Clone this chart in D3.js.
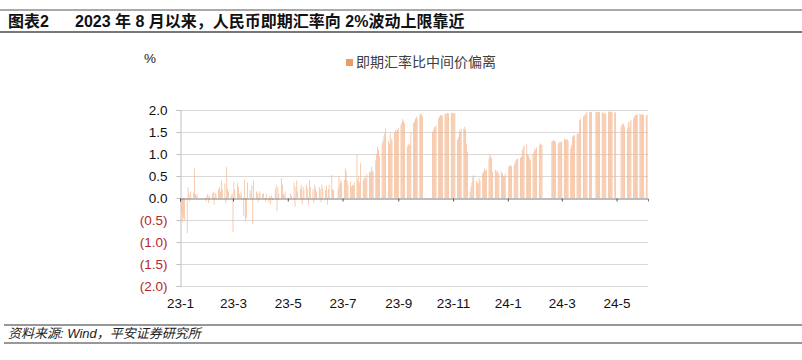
<!DOCTYPE html>
<html>
<head>
<meta charset="utf-8">
<script src="https://cdn.jsdelivr.net/npm/d3@7"></script>
<style>
  html, body { margin: 0; padding: 0; background: #fff; }
  svg { display: block; font-family: "Liberation Sans", Arial, "Noto Sans CJK SC", sans-serif; }
</style>
</head>
<body>
<svg id="chart" width="802" height="360"></svg>
<script>
// ---------------- DATA ----------------
const titleLabel = "图表2";
const titleText = "2023 年 8 月以来，人民币即期汇率向 2%波动上限靠近";
const sourceText = "资料来源: Wind，平安证券研究所";
const seriesName = "即期汇率比中间价偏离";
const unitLabel = "%";

// first Monday of the weekly rows below
const firstMonday = "2023-01-02";
// spot vs. central parity deviation (%), one row per week Mon..Fri, null = no trading
const weekValues = [
  [null, -0.35, -0.55, -0.45, -0.5],   // 2023-01-02
  [-0.8, 0.24, 0.1, -0.08, 0.15],
  [0.12, 0.67, 0.08, 0.05, 0.1],
  [null, null, null, null, null],
  [-0.08, 0.05, 0.1, -0.12, 0.05],
  [0.1, 0.15, -0.15, 0.12, 0.1],       // 2023-02-06
  [0.2, 0.25, 0.15, 0.4, 0.2],
  [0.33, -0.12, 0.7, 0.22, 0.15],
  [0.05, 0.1, -0.77, 0.37, 0.2],
  [0.35, 0.25, 0.1, 0.05, 0.15],       // 2023-03-06
  [-0.4, 0.42, -0.52, -0.45, 0.35],
  [0.18, 0.1, 0.3, -0.6, 0.4],
  [0.15, 0.12, -0.1, 0.1, 0.15],
  [0.1, 0.1, null, -0.08, 0.1],        // 2023-04-03
  [-0.1, 0.05, -0.15, 0.05, -0.05],
  [0.2, 0.3, -0.3, 0.25, 0.1],
  [0.45, 0.3, 0.1, 0.05, 0.15],
  [null, null, null, 0.1, 0.05],       // 2023-05-01
  [0.35, -0.2, 0.25, 0.4, 0.15],
  [0.2, 0.3, -0.15, 0.25, 0.18],
  [0.3, 0.22, -0.16, 0.41, 0.25],
  [0.2, -0.12, 0.3, 0.22, 0.15],
  [0.25, 0.2, -0.1, 0.3, 0.22],        // 2023-06-05
  [0.18, 0.28, -0.15, 0.2, 0.3],
  [0.52, 0.2, 0.18, null, null],
  [0.22, 0.5, 0.3, 0.41, 0.35],
  [0.41, 0.67, 0.6, 0.4, 0.3],         // 2023-07-03
  [0.37, 0.26, 0.3, 0.28, 0.35],
  [1.0, 0.4, 0.48, 0.35, 0.79],
  [0.4, 0.45, 0.48, 0.42, 0.55],
  [0.6, 0.58, 0.71, 0.62, 0.6],        // 2023-07-31
  [0.86, 1.0, 1.17, 1.1, 0.95],
  [1.24, 1.3, 1.4, 1.47, 1.58],
  [1.3, 1.24, 1.47, 1.35, 1.3],
  [1.5, 1.55, 1.52, 1.55, 1.6],        // 2023-08-28
  [1.66, 1.72, 1.79, 1.75, 1.7],
  [1.17, 1.24, 1.2, 1.22, 1.5],
  [1.7, 1.75, 1.8, 1.85, 1.82],
  [1.88, 1.92, 1.9, 1.85, null],
  [null, null, null, null, null],      // 2023-10-02
  [1.5, 1.55, 1.62, 1.6, 1.65],
  [1.81, 1.85, 1.89, 1.87, 1.88],
  [1.9, 1.92, 1.92, 1.93, 1.92],
  [1.93, 1.94, 1.93, 1.92, 1.93],      // 2023-10-30
  [1.32, 1.39, 1.55, 1.5, 1.58],
  [1.58, 1.62, 1.55, 1.24, 1.05],
  [0.15, 0.26, 0.35, 0.48, 0.52],
  [0.4, 0.35, 0.33, 0.45, 0.4],
  [0.56, 0.6, 0.67, 0.62, 0.65],       // 2023-12-04
  [0.9, 1.01, 0.95, 0.9, 0.6],
  [0.64, 0.6, 0.62, 0.58, 0.56],
  [0.6, 0.56, 0.5, 0.48, 0.55],
  [null, 0.71, 0.73, 0.75, 0.72],      // 2024-01-01
  [0.75, 0.8, 0.86, 0.88, 0.9],
  [0.92, 0.94, 1.09, 1.15, 1.2],
  [1.22, 1.0, 0.97, 0.9, 0.86],
  [1.0, 1.05, 1.13, 1.09, 1.15],
  [1.2, 1.24, 1.22, 1.2, null],        // 2024-02-05
  [null, null, null, null, null],
  [1.28, 1.3, 1.32, 1.3, 1.28],
  [1.24, 1.26, 1.28, 1.27, 1.28],
  [1.35, 1.33, 1.32, 1.34, 1.3],       // 2024-03-04
  [1.13, 1.2, 1.39, 1.42, 1.43],
  [1.45, 1.47, 1.47, 1.77, 1.8],
  [1.85, 1.87, 1.89, 1.94, 1.95],
  [1.96, 1.95, 1.96, null, null],      // 2024-04-01
  [1.95, 1.96, 1.95, 1.96, 1.95],
  [1.95, 1.93, 1.91, 1.94, 1.92],
  [1.96, 1.97, 1.96, 1.95, 1.96],
  [1.95, 1.94, null, null, null],      // 2024-04-29
  [1.62, 1.66, 1.7, 1.68, 1.62],
  [1.58, 1.73, 1.6, 1.73, 1.78],
  [1.81, 1.86, 1.88, 1.89, 1.9],
  [1.92, 1.9, 1.89, 1.91, 1.89],
  [1.89, 1.88, null, null, null]       // 2024-06-03
];

const xStart = "2023-01-01";
const xEnd = "2024-06-05";
const xTickDates = ["2023-01-01","2023-03-01","2023-05-01","2023-07-01","2023-09-01","2023-11-01","2024-01-01","2024-03-01","2024-05-01"];
const xTickLabels = ["23-1","23-3","23-5","23-7","23-9","23-11","24-1","24-3","24-5"];
const yTicks = [2.0, 1.5, 1.0, 0.5, 0.0, -0.5, -1.0, -1.5, -2.0];

// ---------------- BUILD ----------------
const parse = d3.utcParse("%Y-%m-%d");
const monday0 = parse(firstMonday);
const data = [];
weekValues.forEach((wk, wi) => {
  wk.forEach((v, di) => {
    if (v === null) return;
    data.push({ date: d3.utcDay.offset(monday0, wi * 7 + di), value: v });
  });
});

const svg = d3.select("#chart");
const plotL = 180, plotR = 648, plotT = 110, plotB = 286;

const x = d3.scaleUtc().domain([parse(xStart), parse(xEnd)]).range([plotL, plotR]);
const y = d3.scaleLinear().domain([-2, 2]).range([plotB, plotT]);

// header lines + title
svg.append("line").attr("x1", 0).attr("x2", 802).attr("y1", 10).attr("y2", 10)
  .attr("stroke", "#8c8c8c").attr("stroke-width", 1.3);
svg.append("line").attr("x1", 0).attr("x2", 802).attr("y1", 32).attr("y2", 32)
  .attr("stroke", "#4a4a4a").attr("stroke-width", 1.3);
svg.append("text").attr("x", 8).attr("y", 27).attr("font-size", 16).attr("font-weight", "bold")
  .attr("fill", "#111").text(titleLabel);
svg.append("text").attr("x", 75).attr("y", 27).attr("font-size", 16).attr("font-weight", "bold")
  .attr("fill", "#111").text(titleText);

// footer
svg.append("line").attr("x1", 4).attr("x2", 802).attr("y1", 325).attr("y2", 325)
  .attr("stroke", "#333").attr("stroke-width", 1.2);
svg.append("line").attr("x1", 4).attr("x2", 802).attr("y1", 343).attr("y2", 343)
  .attr("stroke", "#333").attr("stroke-width", 1.2);
svg.append("text").attr("x", 8).attr("y", 338).attr("font-size", 13).attr("font-style", "italic")
  .attr("fill", "#222").text(sourceText);

// unit + legend
svg.append("text").attr("x", 144).attr("y", 63).attr("font-size", 13.5).attr("fill", "#222").text(unitLabel);
svg.append("rect").attr("x", 346).attr("y", 59).attr("width", 7).attr("height", 7).attr("fill", "#EE9A66");
svg.append("text").attr("x", 356).attr("y", 67).attr("font-size", 14).attr("fill", "#404040").text(seriesName);

// gridlines
svg.append("g").selectAll("line").data(yTicks.filter(d => d !== 0)).join("line")
  .attr("x1", plotL).attr("x2", plotR)
  .attr("y1", d => Math.round(y(d)) + 0.5).attr("y2", d => Math.round(y(d)) + 0.5)
  .attr("stroke", "#d9d9d9").attr("stroke-width", 1);

// y axis
const yAxis = d3.axisLeft(y).tickValues(yTicks).tickSize(4).tickPadding(9)
  .tickFormat(d => d < 0 ? "(" + d3.format(".1f")(-d) + ")" : d3.format(".1f")(d));
const gy = svg.append("g").attr("transform", `translate(${plotL + 0.5},0)`).call(yAxis);
gy.select(".domain").attr("stroke", "#bfbfbf");
gy.selectAll(".tick line").attr("stroke", "#bfbfbf");
gy.selectAll(".tick text").attr("font-size", 13.5)
  .attr("font-family", "'Liberation Sans', Arial, sans-serif")
  .attr("fill", d => d < 0 ? "#B4282E" : "#111");

// bars
const dayW = x(parse("2023-01-02")) - x(parse("2023-01-01"));
const barW = dayW * 0.8;
svg.append("g").selectAll("rect").data(data).join("rect")
  .attr("x", d => x(d.date) - barW / 2)
  .attr("width", barW)
  .attr("y", d => Math.min(y(d.value), y(0)))
  .attr("height", d => Math.abs(y(d.value) - y(0)))
  .attr("fill", "#F5B892");

// x axis (zero line)
const xAxis = d3.axisBottom(x).tickValues(xTickDates.map(parse)).tickSize(3).tickPadding(7)
  .tickFormat((d, i) => xTickLabels[i]);
const gx = svg.append("g").attr("transform", `translate(0,${Math.round(y(0)) + 0.5})`).call(xAxis);
gx.select(".domain").attr("stroke", "#7a7a7a");
gx.selectAll(".tick line").attr("stroke", "#555");
gx.selectAll(".tick text").attr("font-size", 13.5).attr("fill", "#111")
  .attr("font-family", "'Liberation Sans', Arial, sans-serif")
  .attr("transform", `translate(0,${plotB - y(0) + 2})`);
</script>
</body>
</html>
